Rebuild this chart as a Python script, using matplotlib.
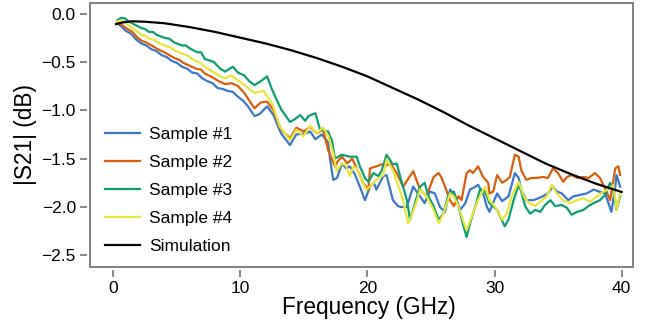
import numpy as np
import matplotlib
matplotlib.use('Agg')
import matplotlib.pyplot as plt
from matplotlib.patches import Rectangle

plt.rcParams['font.family'] = ['Liberation Sans', 'DejaVu Sans']

# (frequency GHz, |S21| dB)
sample1 = [
    (0.3, -0.10), (0.6, -0.13), (1.0, -0.18), (1.4, -0.21), (1.8, -0.27), (2.2, -0.31),
    (2.6, -0.33), (3.0, -0.37), (3.4, -0.39), (3.8, -0.43), (4.2, -0.45), (4.6, -0.49),
    (5.0, -0.51), (5.4, -0.55), (5.8, -0.57), (6.2, -0.61), (6.6, -0.62), (7.0, -0.67),
    (7.4, -0.70), (7.8, -0.72), (8.2, -0.77), (8.6, -0.78), (9.0, -0.80), (9.4, -0.81),
    (9.8, -0.86), (10.2, -0.90), (10.6, -0.96), (11.1, -1.06), (11.5, -1.04), (12.1, -0.96),
    (12.6, -1.05), (13.2, -1.24), (13.9, -1.36), (14.4, -1.25), (15.1, -1.24), (15.5, -1.22),
    (15.9, -1.30), (16.4, -1.25), (16.9, -1.33), (17.05, -1.50), (17.3, -1.72), (17.6, -1.70),
    (18.0, -1.55), (18.3, -1.60), (18.6, -1.58), (19.0, -1.66), (19.4, -1.79), (19.8, -1.93),
    (20.2, -1.79), (20.5, -1.75), (20.7, -1.82), (21.25, -1.68), (21.5, -1.67), (22.0, -1.93),
    (22.4, -1.99), (22.6, -2.00), (23.1, -2.00), (23.35, -1.89), (23.6, -1.79), (24.13, -1.89),
    (24.5, -1.96), (24.9, -1.84), (25.3, -1.86), (25.7, -2.00), (26.1, -2.05), (26.5, -1.82),
    (26.9, -1.89), (27.3, -2.03), (27.7, -1.96), (28.07, -1.82), (28.5, -1.79), (28.7, -1.77),
    (29.1, -1.86), (29.4, -2.00), (29.6, -2.05), (30.2, -1.86), (30.6, -1.94), (31.1, -1.89),
    (31.6, -1.65), (31.9, -1.70), (32.1, -1.82), (32.5, -1.93), (33.05, -1.93), (33.45, -1.91),
    (33.8, -1.89), (34.2, -1.86), (34.6, -1.79), (34.9, -1.84), (35.3, -1.86), (35.8, -1.93),
    (36.2, -1.89), (36.73, -1.875), (37.25, -1.86), (37.8, -1.82), (38.2, -1.84), (38.7, -1.86),
    (39.2, -2.05), (39.5, -1.79), (39.6, -1.67), (39.88, -1.79),
]

sample2 = [
    (0.3, -0.09), (0.6, -0.11), (1.0, -0.15), (1.5, -0.19), (1.9, -0.25), (2.2, -0.28),
    (2.6, -0.30), (3.0, -0.33), (3.5, -0.37), (4.0, -0.40), (4.4, -0.43), (4.8, -0.46),
    (5.2, -0.48), (5.5, -0.51), (6.0, -0.54), (6.5, -0.57), (6.9, -0.58), (7.2, -0.62),
    (7.8, -0.66), (8.3, -0.70), (8.8, -0.73), (9.3, -0.72), (9.8, -0.75), (10.3, -0.82),
    (10.7, -0.90), (11.1, -0.98), (11.6, -0.92), (12.1, -0.91), (12.6, -1.00), (13.2, -1.20),
    (13.9, -1.29), (14.4, -1.18), (15.0, -1.22), (15.5, -1.17), (16.0, -1.24), (16.5, -1.20),
    (16.9, -1.41), (17.44, -1.58), (17.7, -1.52), (18.0, -1.48), (18.4, -1.55), (18.8, -1.50),
    (19.15, -1.60), (19.65, -1.75), (20.07, -1.82), (20.2, -1.60), (20.7, -1.58), (21.1, -1.56),
    (21.5, -1.57), (21.8, -1.55), (22.3, -1.65), (22.8, -1.79), (23.35, -1.68), (23.6, -1.63),
    (24.13, -1.82), (24.65, -1.89), (25.2, -1.69), (25.6, -1.65), (25.8, -1.69), (26.1, -1.79),
    (26.5, -1.93), (26.8, -1.99), (27.15, -1.89), (27.4, -1.93), (27.8, -1.65), (28.07, -1.62),
    (28.3, -1.65), (28.7, -1.58), (29.1, -1.69), (29.5, -1.75), (29.6, -1.86), (29.9, -1.84),
    (30.2, -1.67), (30.6, -1.75), (30.95, -1.72), (31.2, -1.69), (31.6, -1.46), (31.9, -1.48),
    (32.1, -1.62), (32.5, -1.72), (32.9, -1.70), (33.3, -1.70), (33.8, -1.69), (34.2, -1.70),
    (34.6, -1.60), (35.0, -1.65), (35.4, -1.74), (35.7, -1.69), (36.07, -1.67), (36.5, -1.70),
    (37.0, -1.69), (37.4, -1.70), (37.9, -1.65), (38.3, -1.70), (38.7, -1.81), (39.1, -1.93),
    (39.5, -1.60), (39.75, -1.58), (39.88, -1.67),
]

sample3 = [
    (0.3, -0.07), (0.6, -0.045), (0.9, -0.05), (1.2, -0.08), (1.6, -0.11), (2.2, -0.15),
    (2.5, -0.16), (2.8, -0.19), (3.1, -0.19), (3.4, -0.22), (4.0, -0.25), (4.4, -0.26),
    (4.8, -0.30), (5.4, -0.33), (5.7, -0.33), (6.0, -0.36), (6.6, -0.40), (6.9, -0.40),
    (7.2, -0.47), (7.9, -0.50), (8.4, -0.57), (8.8, -0.60), (9.4, -0.55), (9.8, -0.61),
    (10.3, -0.64), (10.7, -0.70), (11.1, -0.74), (11.6, -0.70), (12.1, -0.65), (12.5, -0.79),
    (13.2, -0.99), (13.9, -1.12), (14.2, -1.10), (14.7, -1.05), (15.1, -1.11), (15.35, -1.06),
    (15.9, -1.03), (16.26, -1.20), (16.9, -1.22), (17.05, -1.27), (17.2, -1.31), (17.44, -1.50),
    (17.97, -1.46), (18.6, -1.48), (19.15, -1.48), (19.4, -1.58), (19.8, -1.70), (20.07, -1.74),
    (20.46, -1.65), (20.85, -1.68), (21.1, -1.63), (21.5, -1.46), (22.0, -1.56), (22.3, -1.55),
    (22.56, -1.68), (23.1, -1.93), (23.35, -2.13), (23.9, -1.89), (24.13, -1.79), (24.5, -1.75),
    (24.8, -1.89), (25.2, -1.99), (25.6, -2.13), (25.97, -2.07), (26.36, -1.875), (26.8, -1.84),
    (27.15, -1.99), (27.5, -2.17), (27.8, -2.31), (28.07, -2.17), (28.5, -1.99), (28.85, -1.82),
    (29.25, -1.84), (29.6, -1.96), (30.2, -2.03), (30.8, -2.20), (31.1, -2.13), (31.5, -1.93),
    (31.9, -1.77), (32.1, -1.84), (32.4, -1.99), (32.8, -2.07), (33.2, -2.03), (33.6, -2.05),
    (33.97, -1.98), (34.4, -1.93), (34.76, -1.99), (35.3, -1.98), (35.7, -2.01), (36.07, -2.08),
    (36.5, -2.05), (37.0, -2.03), (37.4, -1.99), (37.8, -1.96), (38.3, -1.93), (38.7, -1.875),
    (39.1, -1.75), (39.35, -1.82), (39.6, -2.03), (39.88, -1.89),
]

sample4 = [
    (0.3, -0.08), (0.6, -0.07), (1.0, -0.10), (1.5, -0.15), (1.9, -0.19), (2.2, -0.22),
    (2.5, -0.23), (2.8, -0.26), (3.2, -0.27), (3.5, -0.30), (4.2, -0.34), (4.5, -0.35),
    (4.8, -0.38), (5.5, -0.42), (5.8, -0.43), (6.2, -0.47), (6.8, -0.51), (7.2, -0.55),
    (7.8, -0.60), (8.3, -0.64), (8.8, -0.67), (9.3, -0.64), (9.8, -0.69), (10.3, -0.74),
    (10.7, -0.78), (11.1, -0.82), (11.8, -0.80), (12.5, -0.93), (13.1, -1.17), (13.4, -1.22),
    (13.9, -1.31), (14.4, -1.20), (14.95, -1.27), (15.5, -1.16), (16.0, -1.24), (16.5, -1.18),
    (16.9, -1.26), (17.3, -1.44), (17.57, -1.63), (17.97, -1.55), (18.3, -1.57), (18.6, -1.68),
    (18.9, -1.58), (19.15, -1.60), (19.4, -1.68), (19.9, -1.82), (20.2, -1.79), (20.7, -1.72),
    (21.25, -1.67), (21.5, -1.51), (22.0, -1.62), (22.8, -1.93), (23.2, -2.17), (23.35, -2.13),
    (23.9, -1.93), (24.13, -1.82), (24.65, -1.89), (25.2, -2.03), (25.6, -2.17), (25.97, -2.07),
    (26.5, -1.86), (26.8, -1.89), (27.15, -1.99), (27.5, -2.13), (27.8, -2.24), (28.2, -2.10),
    (28.7, -1.93), (29.25, -1.79), (29.6, -1.93), (30.0, -1.99), (30.6, -2.13), (30.95, -2.07),
    (31.35, -1.89), (31.9, -1.74), (32.3, -1.89), (32.7, -1.96), (33.2, -1.99), (33.6, -1.945),
    (34.1, -1.89), (34.5, -1.77), (34.9, -1.86), (35.4, -1.93), (35.94, -1.96), (36.5, -1.93),
    (37.0, -1.91), (37.5, -1.945), (38.04, -1.89), (38.6, -1.84), (39.1, -1.81), (39.35, -1.77),
    (39.6, -2.03), (39.88, -1.86),
]

sim_freq = [0.2, 0.8, 1.5, 2.5, 4, 6, 8, 10, 12, 14, 16, 18, 20, 22, 24, 26,
            28, 30, 32, 34, 36, 38, 40]
sim_db = [-0.11, -0.09, -0.08, -0.085, -0.10, -0.14, -0.19, -0.25, -0.31, -0.38, -0.46,
          -0.55, -0.65, -0.77, -0.89, -1.02, -1.16, -1.29, -1.42, -1.55, -1.66, -1.76, -1.845]

labels = ['Sample #1', 'Sample #2', 'Sample #3', 'Sample #4']
colors = ['#3d78c6', '#d95f0e', '#0f9e74', '#e6e63c']

fig = plt.figure(figsize=(6.56, 3.22), dpi=100)
ax = fig.add_axes([0.137, 0.171, 0.828, 0.820])

for data, lab, c in zip([sample1, sample2, sample3, sample4], labels, colors):
    f, v = zip(*data)
    ax.plot(f, v, color=c, lw=1.6, label=lab)
ax.plot(sim_freq, sim_db, color='black', lw=1.6, label='Simulation')

ax.set_xlim(-1.85, 40.9)
ax.set_ylim(-2.62, 0.11)
ax.set_xticks([0, 10, 20, 30, 40])
ax.set_yticks([0.0, -0.5, -1.0, -1.5, -2.0, -2.5])
ax.set_yticklabels(['0.0', '\u22120.5', '\u22121.0', '\u22121.5', '\u22122.0', '\u22122.5'])
ax.set_xlabel('Frequency (GHz)', fontsize=16.3, labelpad=0, x=0.514)
ax.set_ylabel('|S21| (dB)', fontsize=16.3, labelpad=3)

# box frame drawn separately, ticks sit a little outside it
for s in ax.spines.values():
    s.set_color('none')
ax.spines['left'].set_position(('outward', 2))
ax.spines['bottom'].set_position(('outward', 2))
ax.add_patch(Rectangle((0, 0), 1, 1, transform=ax.transAxes, fill=False,
                       ec='#808080', lw=1.4, clip_on=False, zorder=5))
ax.tick_params(direction='out', length=5, width=1.3, color='#808080',
               labelsize=12.5, pad=3)

ax.legend(loc='upper left', bbox_to_anchor=(0.028, 0.53), frameon=False,
          fontsize=12.5, handlelength=2.0, handletextpad=0.55,
          labelspacing=0.74, borderpad=0, borderaxespad=0)

fig.savefig('out.png', dpi=100)
